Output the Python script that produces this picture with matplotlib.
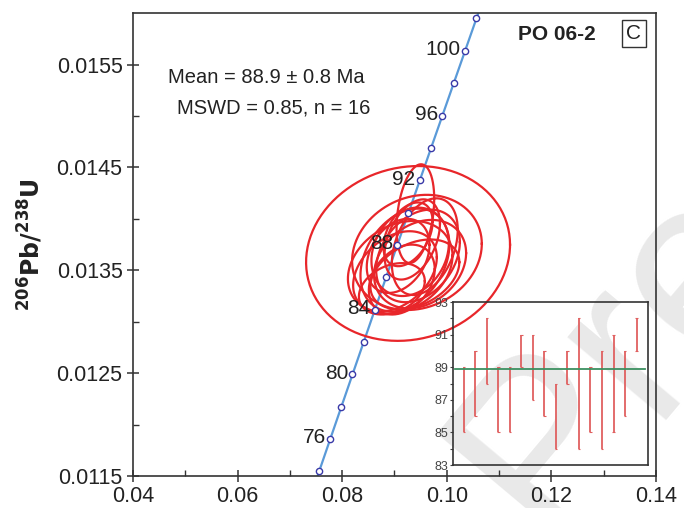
import numpy as np
import matplotlib.pyplot as plt

plt.rcParams['font.family'] = ['Liberation Sans', 'DejaVu Sans']

# Concordia ages (Ma)
ages_line = [72, 74, 76, 78, 80, 82, 84, 86, 88, 90, 92, 94, 96, 98, 100, 102, 104]
ages_marked = [74, 76, 78, 80, 82, 84, 86, 88, 90, 92, 94, 96, 98, 100, 102]
ages_labeled = [76, 80, 84, 88, 92, 96, 100]

# Ellipses: 207Pb/235U centre, 206Pb/238U centre, half-widths, correlation
ell_x = [0.0926, 0.0943, 0.0940, 0.0911, 0.0920, 0.0930, 0.0901, 0.0945,
         0.0934, 0.0914, 0.0949, 0.0907, 0.0939, 0.0926, 0.0895, 0.0958]
ell_y = [0.013664, 0.013674, 0.014051, 0.013530, 0.013600, 0.013680, 0.013490, 0.013640,
         0.013800, 0.013410, 0.013560, 0.013640, 0.013460, 0.013850, 0.013320, 0.013730]
ell_sx = [0.0195, 0.0124, 0.0036, 0.0100, 0.0085, 0.0074, 0.0080, 0.0080,
          0.0053, 0.0063, 0.0088, 0.0060, 0.0085, 0.0047, 0.0063, 0.0063]
ell_sy = [0.00085, 0.00056, 0.00048, 0.00045, 0.00050, 0.00043, 0.00039, 0.00045,
          0.00039, 0.00034, 0.00043, 0.00036, 0.00034, 0.00031, 0.00025, 0.00047]
ell_rho = [0.1, 0.15, 0.3, 0.25, 0.3, 0.2, 0.35, 0.3, 0.4, 0.3, 0.25, 0.3, 0.35, 0.4, 0.3, 0.35]

# Inset: 206Pb/238U ages with error ranges
spot_lo = [85, 86, 88, 85, 85, 89, 87, 86, 84, 88, 84, 85, 84, 85, 86, 90]
spot_hi = [89, 90, 92, 89, 89, 91, 91, 90, 88, 90, 92, 89, 90, 91, 90, 92]
mean_age = 88.9

l238 = 1.55125e-10
l235 = 9.8485e-10


def concordia(t):
    t = np.asarray(t) * 1e6
    return np.exp(l235 * t) - 1, np.exp(l238 * t) - 1


fig = plt.figure(figsize=(6.84, 5.08), dpi=100)
ax = fig.add_axes([0.1944, 0.063, 0.7646, 0.911])
ax.set_facecolor('none')

xl, yl = concordia(ages_line)
ax.plot(xl, yl, color='#5a9ad8', lw=1.6, zorder=2)
xm, ym = concordia(ages_marked)
ax.plot(xm, ym, 'o', ms=4.5, mfc='white', mec='#3a3aa8', mew=1, zorder=4)
xa, ya = concordia(ages_labeled)
for a, x, y in zip(ages_labeled, xa, ya):
    ax.annotate(str(a), (x, y), xytext=(-3, 1), textcoords='offset points',
                ha='right', va='center', fontsize=15, color='#222222', zorder=5)

tt = np.linspace(0, 2 * np.pi, 200)
for cx, cy, sx, sy, r in zip(ell_x, ell_y, ell_sx, ell_sy, ell_rho):
    ex = cx + sx * np.cos(tt)
    ey = cy + sy * (r * np.cos(tt) + np.sqrt(1 - r ** 2) * np.sin(tt))
    ax.plot(ex, ey, color='#e8262a', lw=1.6, zorder=3)

ax.set_xlim(0.04, 0.14)
ax.set_ylim(0.0115, 0.016)
ax.set_xticks([0.04, 0.06, 0.08, 0.10, 0.12, 0.14])
ax.set_xticklabels(['0.04', '0.06', '0.08', '0.10', '0.12', '0.14'])
ax.set_xticks(np.arange(0.05, 0.14, 0.02), minor=True)
ax.set_yticks([0.0115, 0.0125, 0.0135, 0.0145, 0.0155])
ax.set_yticklabels(['0.0115', '0.0125', '0.0135', '0.0145', '0.0155'])
ax.set_yticks([0.0120, 0.0130, 0.0140, 0.0150], minor=True)
ax.tick_params(which='major', direction='inout', length=8, width=1.1,
               labelsize=15.5, colors='#333333', labelcolor='#222222')
ax.tick_params(which='minor', direction='in', length=4, width=1.0, colors='#333333')
for s in ax.spines.values():
    s.set_color('#333333')
    s.set_linewidth(1.2)

ax.set_ylabel(r'$\mathbf{^{206}Pb/^{238}U}$', fontsize=17, color='#222222', labelpad=8)

ax.text(0.0467, 0.01537, 'Mean = 88.9 ± 0.8 Ma', fontsize=14.5, ha='left', va='center', color='#222222')
ax.text(0.0484, 0.01508, 'MSWD = 0.85, n = 16', fontsize=14.5, ha='left', va='center', color='#222222')
ax.text(0.1211, 0.01579, 'PO 06-2', fontsize=15, fontweight='bold', ha='center', va='center', color='#222222')
ax.text(0.1358, 0.01580, 'C', fontsize=15, ha='center', va='center', color='#222222',
        bbox=dict(boxstyle='square,pad=0.2', fc='white', ec='#333333', lw=1))

# inset
ins = fig.add_axes([0.6623, 0.0846, 0.2851, 0.3209])
ins.set_facecolor('none')
pos = np.arange(1, len(spot_lo) + 1)
lo = np.array(spot_lo)
hi = np.array(spot_hi)
ins.vlines(pos, lo, hi, color='#e06060', lw=1.3)
ins.hlines(lo, pos - 0.1, pos + 0.1, color='#e06060', lw=0.8)
ins.hlines(hi, pos - 0.1, pos + 0.1, color='#e06060', lw=0.8)
ins.plot([0.25, 16.7], [mean_age, mean_age], color='#3c9060', lw=1.3)
ins.set_xlim(0.05, 17.0)
ins.set_ylim(83, 93)
ins.set_xticks([])
ins.set_yticks([83, 85, 87, 89, 91, 93])
ins.set_yticks([84, 86, 88, 90, 92], minor=True)
ins.tick_params(which='both', direction='out', length=2.5, width=0.8, labelsize=9,
                colors='#444444', labelcolor='#444444', pad=1)
for s in ins.spines.values():
    s.set_color('#333333')
    s.set_linewidth(1.2)

# watermark
fig.text(0.60, -0.13, 'Preprint', fontsize=175, color='#e9e9e9',
         rotation=50, ha='left', va='bottom', zorder=-1)

fig.savefig('out.png', dpi=100)
